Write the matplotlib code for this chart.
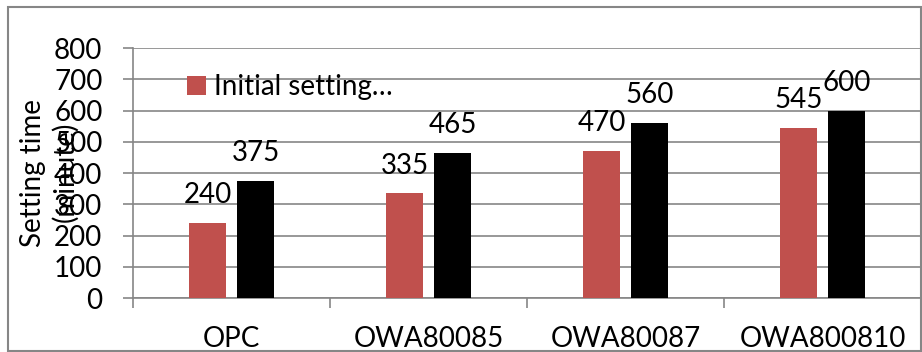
import numpy as np
import matplotlib.pyplot as plt
from matplotlib.patches import Rectangle

plt.rcParams['font.family'] = ['Lato', 'DejaVu Sans']

# setting times per device (minutes)
categories = ['OPC', 'OWA80085', 'OWA80087', 'OWA800810']
initial_setting = [240, 335, 470, 545]
second_series = [375, 465, 560, 600]
yticks = [0, 100, 200, 300, 400, 500, 600, 700, 800]

red = '#C0504D'
grid_col = '#868686'
fs = 20

fig = plt.figure(figsize=(9.22, 3.52), dpi=100)
ax = fig.add_axes([0.1443, 0.1534, 0.8547, 0.7102])

x = np.arange(len(categories))
w = 0.19
off = 0.122
b1 = ax.bar(x - off, initial_setting, w, color=red, label='Initial setting…', zorder=3)
b2 = ax.bar(x + off, second_series, w, color='black', zorder=3)

for rects, vals in ((b1, initial_setting), (b2, second_series)):
    for r, v in zip(rects, vals):
        ax.annotate(str(v), (r.get_x() + r.get_width() / 2, v), xytext=(0, 20),
                    textcoords='offset points', ha='center', va='center', fontsize=fs)

ax.set_xlim(-0.5, 3.5)
ax.set_ylim(0, 800)
ax.set_yticks(yticks)
ax.set_xticks(x)
ax.set_xticklabels(categories)
ax.set_xticks([-0.5, 0.5, 1.5, 2.5, 3.5], minor=True)
ax.yaxis.grid(True, color=grid_col, linewidth=1.2, zorder=0)
ax.tick_params(axis='y', length=7, width=1.2, color=grid_col, pad=15, labelsize=fs)
ax.tick_params(axis='x', which='major', length=0, pad=20, labelsize=fs)
ax.tick_params(axis='x', which='minor', length=7, width=1.2, color=grid_col)
for s in ('top', 'right'):
    ax.spines[s].set_visible(False)
for s in ('left', 'bottom'):
    ax.spines[s].set_color(grid_col)
    ax.spines[s].set_linewidth(1.2)

# y axis title, two lines drawn on top of each other
fig.text(33 / 922, 1 - 173 / 352, 'Setting time', rotation=90, ha='center', va='center', fontsize=fs)
fig.text(65 / 922, 1 - 172 / 352, '(minute)', rotation=90, ha='center', va='center', fontsize=fs)

leg = ax.legend(loc='upper left', bbox_to_anchor=(0.055, 0.94), frameon=False, fontsize=fs,
                handlelength=0.65, handleheight=0.65, handletextpad=0.3, borderaxespad=0)

fig.patches.append(Rectangle((8 / 922, 1 / 352), 913 / 922, 344 / 352, transform=fig.transFigure,
                             fill=False, edgecolor=grid_col, linewidth=1.5))

fig.savefig('out.png', dpi=100)
